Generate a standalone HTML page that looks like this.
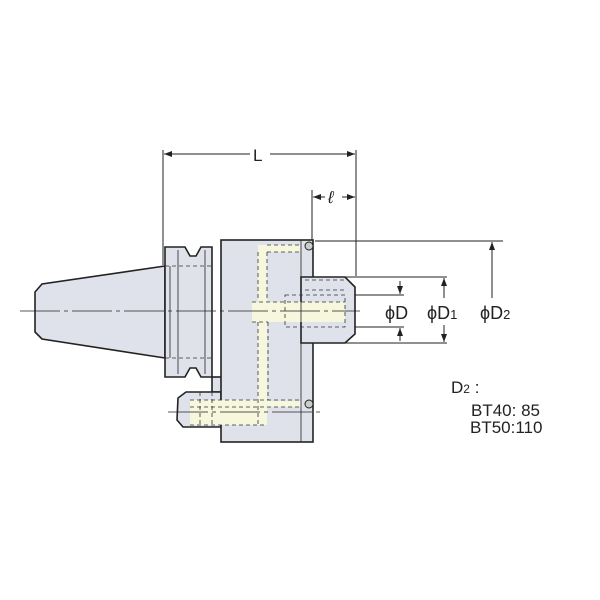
<!DOCTYPE html>
<html><head><meta charset="utf-8"><style>
html,body{margin:0;padding:0;background:#fff;}
svg{display:block;}
text{font-family:"Liberation Sans",sans-serif;fill:#222;}
</style></head><body>
<svg width="600" height="600" viewBox="0 0 600 600" xmlns="http://www.w3.org/2000/svg">
<defs>
<marker id="a" markerWidth="8" markerHeight="6" refX="8" refY="3" orient="auto-start-reverse" markerUnits="userSpaceOnUse"><path d="M0,0 L8,3 L0,6 z" fill="#222"/></marker>
</defs>
<g stroke="#222" stroke-width="1" fill="none">
<!-- dimension L -->
<line x1="163" y1="150" x2="163" y2="265"/>
<line x1="356" y1="150" x2="356" y2="276"/>
<line x1="164" y1="154" x2="250" y2="154" marker-start="url(#a)"/>
<line x1="270" y1="154" x2="355" y2="154" marker-end="url(#a)"/>
<!-- l -->
<line x1="312" y1="190" x2="312" y2="240"/>
<line x1="313" y1="197" x2="325" y2="197" marker-start="url(#a)"/>
<line x1="342" y1="197" x2="355" y2="197" marker-end="url(#a)"/>
<!-- D2 -->
<line x1="315" y1="241" x2="503" y2="241"/>
<line x1="492" y1="298" x2="492" y2="242" marker-end="url(#a)"/>
<!-- D1 -->
<line x1="345" y1="277" x2="447" y2="277"/>
<line x1="345" y1="343" x2="447" y2="343"/>
<line x1="444" y1="298" x2="444" y2="278" marker-end="url(#a)"/>
<line x1="444" y1="325" x2="444" y2="342" marker-end="url(#a)"/>
<!-- D -->
<line x1="345" y1="295" x2="404" y2="295"/>
<line x1="345" y1="327" x2="404" y2="327"/>
<line x1="400" y1="281" x2="400" y2="294" marker-end="url(#a)"/>
<line x1="400" y1="341" x2="400" y2="328" marker-end="url(#a)"/>
</g>
<!-- body shapes -->
<g stroke="#222" stroke-width="1.6" fill="#dfe2ea">
<path d="M165,266 L42,284 L35,292 L35,332 L42,339 L165,358 Z"/>
<path d="M165,247 L185,247 L190,256 L196,256 L201,247 L212,247 L212,377 L201,377 L196,368 L190,368 L185,377 L165,377 Z"/>
<rect x="212" y="377" width="10" height="15"/>
<path d="M221,392 L186,392 L178,398 L177,420 L183,427 L221,427 Z"/>
<rect x="221" y="240" width="92" height="202"/>
<path d="M301,277 L345,277 L355,287 L355,334 L345,343 L301,343 Z"/>
</g>
<!-- yellow channels -->
<g fill="#f6f7dd">
<rect x="258" y="245" width="9" height="180"/>
<rect x="258" y="245" width="42" height="7"/>
<rect x="252" y="302" width="93" height="20"/>
<rect x="190" y="400" width="75" height="25"/>
<rect x="267" y="401" width="34" height="6"/>
</g>
<g stroke="#222" stroke-width="0.8" fill="none">
<line x1="301" y1="240" x2="301" y2="442"/>
<line x1="170" y1="266" x2="170" y2="358"/>
<line x1="178" y1="250" x2="178" y2="374"/>
<line x1="205" y1="250" x2="205" y2="374"/>
<line x1="20" y1="311" x2="360" y2="311" stroke-dasharray="40,4,4,4"/>
<line x1="168" y1="412" x2="320" y2="412" stroke-dasharray="40,4,4,4"/>
</g>
<g stroke="#333" stroke-width="0.8" fill="none" stroke-dasharray="4,3">
<path d="M267,252 L267,300 M258,252 L258,300 M267,245 L300,245 M267,252 L300,252"/>
<path d="M252,302 L345,302 M252,322 L268,322 M268,322 L268,400 M258,322 L258,425"/>
<path d="M285,295 L345,295 L345,327 L285,327 Z"/>
<path d="M305,280 L345,280 M305,290 L345,290"/>
<path d="M190,400 L300,400 M190,407 L300,407 M190,425 L265,425 M200,392 L200,427 M212,392 L212,427"/>
<path d="M165,266 L212,266 M165,358 L212,358"/>
</g>
<g stroke="#222" stroke-width="1" fill="#ccc">
<circle cx="309" cy="246" r="4"/>
<circle cx="309" cy="404" r="4"/>
</g>
<text x="253" y="161" font-size="17">L</text>
<text x="328" y="203" font-size="17" font-style="italic">ℓ</text>
<text x="385" y="319" font-size="18">ϕD</text>
<text x="427" y="319" font-size="18">ϕD<tspan font-size="13">1</tspan></text>
<text x="480" y="319" font-size="18">ϕD<tspan font-size="13">2</tspan></text>
<text x="451" y="393" font-size="17">D<tspan font-size="12">2</tspan> :</text>
<text x="471" y="416" font-size="17">BT40:  85</text>
<text x="470" y="433" font-size="17">BT50:110</text>
</svg>
</body></html>
